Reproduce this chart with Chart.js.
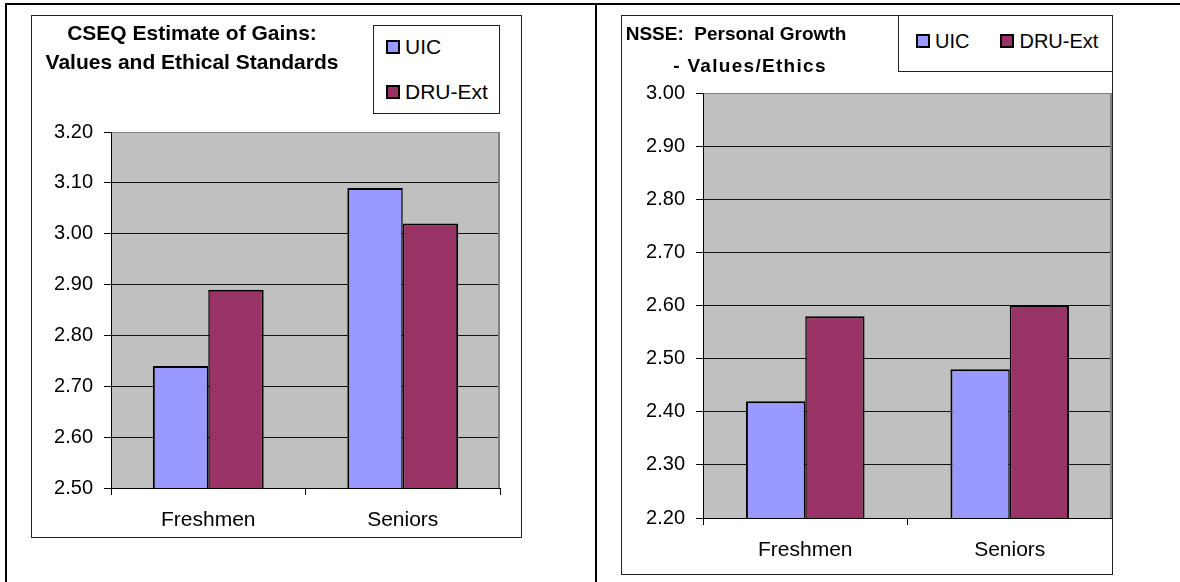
<!DOCTYPE html>
<html>
<head>
<meta charset="utf-8">
<title>CSEQ / NSSE values and ethics</title>
<script src="https://cdn.jsdelivr.net/npm/chart.js@4.4.1/dist/chart.umd.min.js"></script>
<style>
  body { margin: 0; background: #fff; font-family: 'Liberation Sans', Arial, sans-serif; color: #000; }
  #page { position: relative; width: 1180px; height: 582px; overflow: hidden; }
  .rule { position: absolute; background: #000; }
  .box { position: absolute; border: 1px solid #222; box-sizing: border-box; background: #fff; }
  .box canvas { position: absolute; left: 0; top: 0; }
  .title { position: absolute; width: 340px; font-weight: bold; text-align: center; white-space: pre; line-height: 20px; }
  .legend { position: absolute; border: 1px solid #222; box-sizing: border-box; background: #fff; display: flex; }
  .legend .item { display: flex; align-items: center; height: 20px; line-height: 20px; white-space: nowrap; }
  .legend .swatch { width: 14px; height: 14px; border: 2px solid #000; box-sizing: border-box; margin-right: 5px; }
</style>
</head>
<body>
<div id="page">
  <!-- table rules -->
  <div class="rule" style="left:5px; top:3px; width:1175px; height:2px;"></div>
  <div class="rule" style="left:5px; top:3px; width:2px; height:579px;"></div>
  <div class="rule" style="left:595px; top:3px; width:2px; height:579px;"></div>

  <div class="box" style="left:31px; top:15px; width:491px; height:523px;">
    <canvas id="cseqChart" width="489" height="521"></canvas>
  </div>
  <div class="title" id="cseqT1" style="left:22px; top:23px; font-size:21px;"></div>
  <div class="title" id="cseqT2" style="left:22px; top:52px; font-size:21px;"></div>
  <div class="legend" id="cseqLegend" style="left:373px; top:25px; width:127px; height:89px; flex-direction:column; padding:11px 0 0 12px; gap:25px; font-size:21px;"></div>

  <div class="box" style="left:621px; top:15px; width:492px; height:560px;">
    <canvas id="nsseChart" width="490" height="558"></canvas>
  </div>
  <div class="title" id="nsseT1" style="left:566px; top:24px; font-size:19px;"></div>
  <div class="title" id="nsseT2" style="left:580px; top:56px; font-size:19px; letter-spacing:1.3px;"></div>
  <div class="legend" id="nsseLegend" style="left:898px; top:15px; width:215px; height:57px; flex-direction:row; padding:15px 0 0 17px; gap:31px; font-size:20px;"></div>
</div>

<script>
const categories = ['Freshmen', 'Seniors'];
const seriesNames = ['UIC', 'DRU-Ext'];
const seriesColors = ['#9999FF', '#993366'];

// CSEQ Estimate of Gains
const cseqTitle = ['CSEQ Estimate of Gains:', 'Values and Ethical Standards'];
const cseqUIC = [2.74, 3.09];
const cseqDRU = [2.89, 3.02];
const cseqAxis = [2.5, 3.2, 0.1];   // min, max, step

// NSSE Personal Growth
const nsseTitle = ['NSSE:  Personal Growth', '- Values/Ethics'];
const nsseUIC = [2.42, 2.48];
const nsseDRU = [2.58, 2.60];
const nsseAxis = [2.2, 3.0, 0.1];

Chart.defaults.font.family = "'Liberation Sans', Arial, sans-serif";
Chart.defaults.color = '#000';

// grey plot background like the old spreadsheet charts
const plotBg = {
  id: 'plotBg',
  beforeDraw(chart) {
    const a = chart.chartArea, c = chart.ctx;
    c.save();
    c.fillStyle = '#C0C0C0';
    c.fillRect(a.left, a.top, a.right - a.left, a.bottom - a.top);
    c.restore();
  },
  beforeDatasetsDraw(chart) {
    const a = chart.chartArea, c = chart.ctx;
    c.save();
    c.strokeStyle = '#808080';
    c.lineWidth = 2;
    c.beginPath();
    c.moveTo(a.right - 1, a.top);
    c.lineTo(a.right - 1, a.bottom);
    c.stroke();
    c.restore();
  }
};

function makeChart(id, uic, dru, axis, area, catPct) {
  const canvas = document.getElementById(id);
  return new Chart(canvas.getContext('2d'), {
    type: 'bar',
    data: {
      labels: categories,
      datasets: [
        { label: seriesNames[0], data: uic, backgroundColor: seriesColors[0],
          borderWidth: { left: 2, right: 1.5, top: 2, bottom: 1 } },
        { label: seriesNames[1], data: dru, backgroundColor: seriesColors[1],
          borderWidth: { left: 1.5, right: 2, top: 2, bottom: 1 } }
      ]
    },
    options: {
      responsive: false,
      animation: false,
      events: [],
      layout: { padding: { left: 0, top: area.top, right: canvas.width - area.right, bottom: 0 } },
      datasets: {
        bar: { categoryPercentage: catPct, barPercentage: 1, borderColor: '#000', borderSkipped: false }
      },
      plugins: {
        legend: { display: false },
        title: { display: false },
        tooltip: { enabled: false }
      },
      scales: {
        x: {
          grid: { offset: true, drawOnChartArea: false, drawTicks: true, tickLength: 7, tickColor: '#000' },
          border: { color: '#000', width: 1 },
          ticks: { color: '#000', font: { size: 21 }, padding: 13, maxRotation: 0 },
          afterFit(s) { s.height = canvas.height - area.bottom; }
        },
        y: {
          min: axis[0],
          max: axis[1],
          grid: {
            color: (ctx) => ctx.tick && Math.abs(ctx.tick.value - axis[1]) < 1e-6 ? '#808080' : '#111',
            lineWidth: 1,
            tickLength: 7,
            tickColor: '#000'
          },
          border: { color: '#000', width: 1 },
          ticks: { stepSize: axis[2], color: '#000', font: { size: 20 }, padding: 11,
                   callback: (v) => Number(v).toFixed(2) },
          afterFit(s) { s.width = area.left; }
        }
      }
    },
    plugins: [plotBg]
  });
}

function fillLegend(id) {
  const el = document.getElementById(id);
  seriesNames.forEach((name, i) => {
    const item = document.createElement('div');
    item.className = 'item';
    const sw = document.createElement('span');
    sw.className = 'swatch';
    sw.style.background = seriesColors[i];
    item.appendChild(sw);
    item.appendChild(document.createTextNode(name));
    el.appendChild(item);
  });
}

document.getElementById('cseqT1').textContent = cseqTitle[0];
document.getElementById('cseqT2').textContent = cseqTitle[1];
document.getElementById('nsseT1').textContent = nsseTitle[0];
document.getElementById('nsseT2').textContent = nsseTitle[1];
fillLegend('cseqLegend');
fillLegend('nsseLegend');

makeChart('cseqChart', cseqUIC, cseqDRU, cseqAxis, { left: 79, right: 468, top: 116, bottom: 472 }, 0.57);
makeChart('nsseChart', nsseUIC, nsseDRU, nsseAxis, { left: 81, right: 490, top: 77, bottom: 502 }, 0.58);
</script>
</body>
</html>
